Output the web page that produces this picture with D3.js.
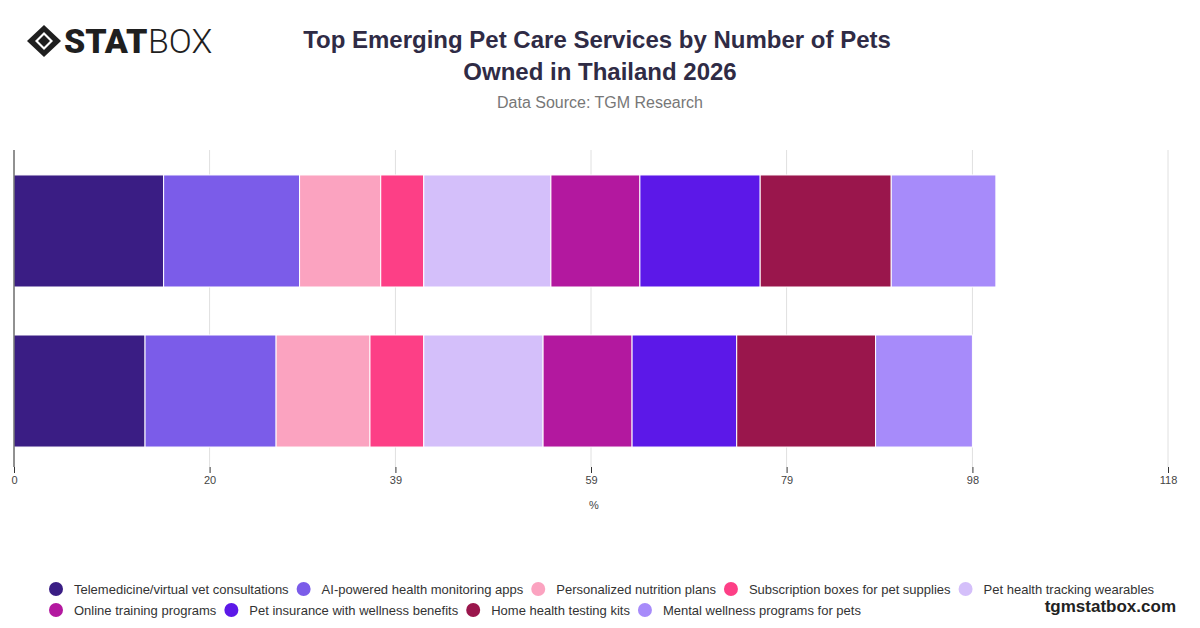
<!DOCTYPE html><html><head><meta charset="utf-8"><script src="https://cdn.jsdelivr.net/npm/d3@7"></script>
<style>body{margin:0;background:#fff;font-family:"Liberation Sans",Arial,sans-serif}</style></head><body><svg id="c" width="1200" height="628"></svg>
<script>
const series=["Telemedicine/virtual vet consultations","AI-powered health monitoring apps","Personalized nutrition plans","Subscription boxes for pet supplies","Pet health tracking wearables","Online training programs","Pet insurance with wellness benefits","Home health testing kits","Mental wellness programs for pets"];
const colors=["#3a1d84","#7b5ce9","#fba3c0","#fd3f86","#d4bffa","#b3189f","#5c18e8","#9a164c","#a78bfa"];
const categories=["Row A","Row B"];
const values=[[15.3,13.9,8.3,4.4,13.0,9.1,12.3,13.4,10.7],[13.4,13.4,9.6,5.5,12.2,9.1,10.7,14.2,9.9]];
const tickVals=[0,20,39,59,79,98,118];
const svg=d3.select("#c").attr("font-family","Liberation Sans, Arial, sans-serif");
const x=d3.scaleLinear().domain([0,118]).range([14,1168]);
const y=d3.scaleBand().domain(categories).range([150,472]).paddingInner(0.3).paddingOuter(0.156);
svg.selectAll(".g").data(tickVals).join("line").attr("x1",d=>x(d)).attr("x2",d=>x(d)).attr("y1",150).attr("y2",467).attr("stroke","#e0e0e0");
categories.forEach((c,i)=>{let acc=0;values[i].forEach((v,j)=>{svg.append("rect").attr("x",x(acc)).attr("width",x(acc+v)-x(acc)).attr("y",y(c)).attr("height",y.bandwidth()).attr("fill",colors[j]).attr("stroke","#fff").attr("stroke-width",1);acc+=v;});});
svg.append("line").attr("x1",14).attr("x2",14).attr("y1",150).attr("y2",467).attr("stroke","#333");
const ax=svg.append("g").attr("transform","translate(0,467)").call(d3.axisBottom(x).tickValues(tickVals).tickSize(6));
ax.select(".domain").remove();ax.selectAll("line").attr("stroke","#333");ax.selectAll("text").attr("font-size",11).attr("fill","#444").attr("font-family","Liberation Sans, Arial");
svg.append("text").attr("x",594).attr("y",509).attr("text-anchor","middle").attr("font-size",11).attr("fill","#444").text("%");
svg.append("text").attr("x",597).attr("y",48).attr("text-anchor","middle").attr("font-size",24).attr("font-weight",700).attr("fill","#2f2b45").text("Top Emerging Pet Care Services by Number of Pets");
svg.append("text").attr("x",600).attr("y",80).attr("text-anchor","middle").attr("font-size",24).attr("font-weight",700).attr("fill","#2f2b45").text("Owned in Thailand 2026");
svg.append("text").attr("x",600).attr("y",108).attr("text-anchor","middle").attr("font-size",16).attr("fill","#777").text("Data Source: TGM Research");
const lg=svg.append("g");
lg.append("path").attr("d","M44,25 L61,41 L44,57 L27,41Z").attr("fill","#1f1f1f");
lg.append("path").attr("d","M44,32 L53,41 L44,50 L35,41Z").attr("fill","#fff");
lg.append("path").attr("d","M44,35 L50,41 L44,47 L38,41Z").attr("fill","#1f1f1f");
lg.append("text").attr("x",64).attr("y",53).attr("font-size",34).attr("font-weight",900).attr("font-family","Roboto").attr("fill","#1f1f1f").text("STAT");
lg.append("text").attr("x",148).attr("y",53).attr("font-size",34).attr("font-weight",300).attr("font-family","Roboto").attr("fill","#1f1f1f").text("BOX");
const rows=[[0,1,2,3,4],[5,6,7,8]];
rows.forEach((r,ri)=>{let cx=48;r.forEach(i=>{const g=svg.append("g");g.append("circle").attr("cx",cx+8).attr("cy",589+ri*21).attr("r",7).attr("fill",colors[i]);const t=g.append("text").attr("x",cx+26).attr("y",594+ri*21).attr("font-size",13).attr("fill","#333").text(series[i]);cx+=26+t.node().getComputedTextLength()+7;});});
svg.append("text").attr("x",1176).attr("y",612).attr("text-anchor","end").attr("font-size",17).attr("font-weight",700).attr("fill","#222").text("tgmstatbox.com");
</script></body></html>
